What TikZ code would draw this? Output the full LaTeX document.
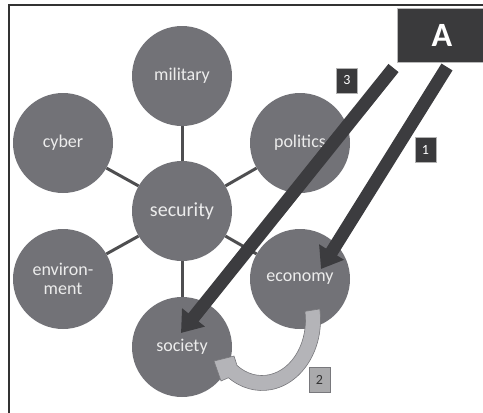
\documentclass[tikz,border=0pt]{standalone}
\usepackage{fontspec}
\setmainfont{Carlito}
\usetikzlibrary{arrows.meta,calc}
\definecolor{disc}{RGB}{114,114,119}
\definecolor{disctext}{RGB}{236,236,236}
\definecolor{spoke}{RGB}{78,78,80}
\definecolor{boxdark}{RGB}{58,58,60}
\definecolor{arrowdark}{RGB}{60,60,63}
\definecolor{arrowlight}{RGB}{180,180,184}
\definecolor{arrowedge}{RGB}{120,120,124}
\definecolor{tagpale}{RGB}{170,170,172}
\definecolor{frameline}{RGB}{50,50,50}
\begin{document}
\begin{tikzpicture}[x=1pt,y=-1pt,
  topic/.style={circle,fill=disc,minimum size=100pt,inner sep=0pt,
    text=disctext,font=\fontsize{18}{19}\selectfont,align=center},
  link/.style={draw=spoke,line width=3pt},
  bigarrow/.style={draw=arrowdark,line width=13pt,
    -{Triangle[width=28pt,length=20pt]}},
  tag/.style={minimum width=21pt,minimum height=25pt,inner sep=0pt,
    font=\fontsize{14}{14}\selectfont},
  darktag/.style={tag,fill=boxdark,draw=gray!60,line width=0.4pt,text=white},
  paletag/.style={tag,fill=tagpale,draw=arrowedge,line width=0.5pt,text=black!80},
]
\useasboundingbox (0,0) rectangle (483,413);
\clip (0,0) rectangle (483,413);

% frame edges
\draw[frameline,line width=1.5pt] (9,413) -- (9,5) -- (483,5);

% topic discs around the central one
\node[topic,font=\fontsize{20}{21}\selectfont] (security) at (182,211) {security};
\node[topic] (military) at (182,76) {military};
\node[topic] (cyber) at (63,143) {cyber};
\node[topic] (politics) at (300,143) {politics};
\node[topic] (environment) at (63,279) {environ-\\ment};
\node[topic] (economy) at (300,279) {economy};
\node[topic] (society) at (182,347) {society};

% spokes between the rims
\path[link] (security.90) -- (military.270);
\path[link] (security.150) -- (cyber.330);
\path[link] (security.30) -- (politics.210);
\path[link] (security.210) -- (environment.30);
\path[link] (security.330) -- (economy.150);
\path[link] (security.270) -- (society.90);

% actor box
\node[draw=gray!55,fill=boxdark,minimum width=90pt,minimum height=54pt,
  inner sep=0pt,text=white,font=\fontsize{34}{34}\selectfont\bfseries]
  (A) at (442,35) {A};

% curved arrow from economy to society
\coordinate (ctr) at (262,320);
\filldraw[fill=arrowlight,draw=arrowedge,line width=0.6pt]
  ($(ctr)+(-9:58.5 and 70.5)$)
  arc[start angle=-9,end angle=125,x radius=58.5,y radius=70.5]
  -- (221,381) -- (214,361) -- (234,356)
  -- ($(ctr)+(125:43.5 and 55.5)$)
  arc[start angle=125,end angle=-9,x radius=43.5,y radius=55.5]
  -- cycle;

% straight arrows from the actor
\coordinate (a1s) at (447,67);
\coordinate (a1e) at (321,269);
\coordinate (a3s) at (393.5,68);
\coordinate (a3e) at (181,333);
\draw[bigarrow] (a1s) -- (a1e);
\draw[bigarrow] (a3s) -- (a3e);

% step numbers
\node[darktag] (n3) at (347,80.5) {3};
\node[darktag] (n1) at (425.5,150) {1};
\node[paletag] (n2) at (319.5,379.5) {2};
\end{tikzpicture}
\end{document}
